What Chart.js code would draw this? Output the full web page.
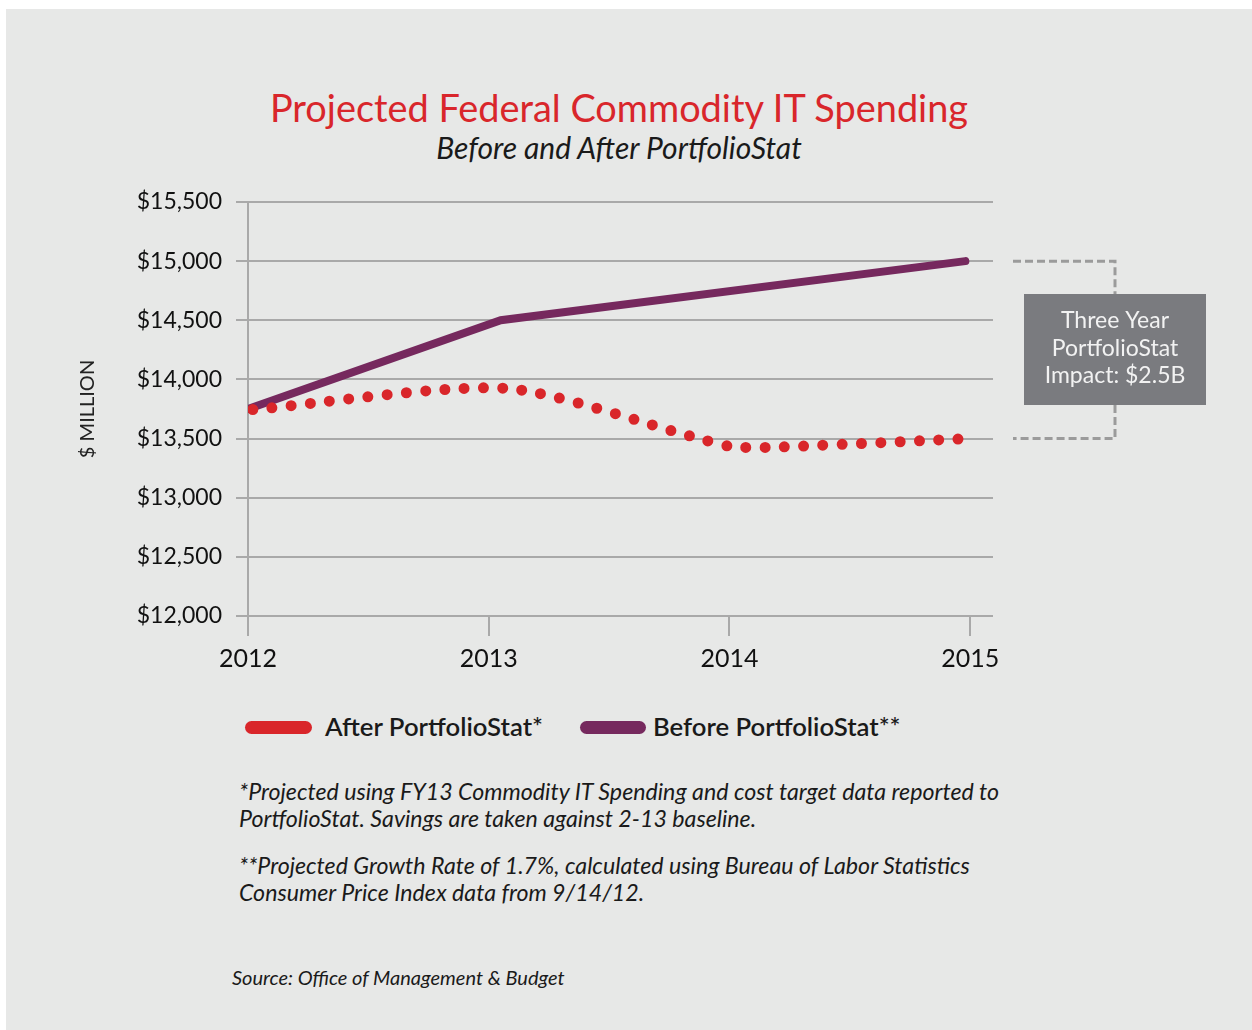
<!DOCTYPE html>
<html>
<head>
<meta charset="utf-8">
<script src="https://cdn.jsdelivr.net/npm/chart.js@4.4.0/dist/chart.umd.min.js"></script>
<style>
  body { margin: 0; background: #fff; font-family: Lato, sans-serif; color: #1a1a1a; }
  #panel { position: absolute; left: 6px; top: 9px; width: 1246px; height: 1021px; background: #e7e8e7; }
  #wrap { position: absolute; left: 0; top: 0; width: 1252px; height: 690px; }
  .abs { position: absolute; white-space: nowrap; }
  #title { left: 0; width: 1238px; top: 85px; text-align: center; font-size: 37.9px; color: #d9262b; line-height: 46px; }
  #subtitle { left: 0; width: 1238px; top: 129px; text-align: center; font-size: 30px; font-style: italic; line-height: 36px; }
  .pill { position: absolute; height: 13px; border-radius: 7px; }
  .leg { font-size: 25.7px; font-weight: 600; line-height: 30px; }
  .note { font-size: 23.2px; font-style: italic; line-height: 27px; left: 239px; }
</style>
</head>
<body>
<div id="panel"></div>
<div id="title" class="abs">Projected Federal Commodity IT Spending</div>
<div id="subtitle" class="abs">Before and After PortfolioStat</div>
<div id="wrap"><canvas id="chart"></canvas></div>

<div class="pill" style="left:245px;top:721px;width:67px;background:#d9262a"></div>
<div class="abs leg" style="left:325px;top:711px">After PortfolioStat*</div>
<div class="pill" style="left:580px;top:721px;width:66px;background:#76295e"></div>
<div class="abs leg" style="left:653px;top:711px">Before PortfolioStat**</div>

<div class="abs note" style="top:778px">*Projected using FY13 Commodity IT Spending and cost target data reported to<br>PortfolioStat. Savings are taken against 2-13 baseline.</div>
<div class="abs note" style="top:852px">**Projected Growth Rate of 1.7%, calculated using Bureau of Labor Statistics<br>Consumer Price Index data from 9/14/12.</div>
<div class="abs note" style="top:964px;left:232px;font-size:20px">Source: Office of Management &amp; Budget</div>

<script>
// tick values
const years = [2012, 2013, 2014, 2015];
const yTicks = [12000, 12500, 13000, 13500, 14000, 14500, 15000, 15500];

// series
const afterX = [2012.02, 2013.07, 2013.85, 2014.0, 2014.15, 2015];
const afterY = [13745, 13925, 13515, 13435, 13425, 13500];
const beforeX = [2012, 2013.05, 2014.98];
const beforeY = [13750, 14500, 15000];

// callout bracket levels
const impactLevels = [15000, 13500];
const impactText = ['Three Year', 'PortfolioStat', 'Impact: $2.5B'];

const gridGray = '#a9a9a9';

const calloutPlugin = {
    id: 'callout',
    afterDraw(chart) {
        const ctx = chart.ctx;
        const y = chart.scales.y;
        const yTop = y.getPixelForValue(impactLevels[0]);
        const yBot = y.getPixelForValue(impactLevels[1]);
        const boxL = 1024, boxR = 1206, boxT = 294, boxB = 405;
        const midX = (boxL + boxR) / 2;
        ctx.save();
        ctx.strokeStyle = '#9b9b9b';
        ctx.lineWidth = 3;
        ctx.setLineDash([8, 4]);
        ctx.beginPath();
        ctx.moveTo(1013, yTop);
        ctx.lineTo(midX, yTop);
        ctx.lineTo(midX, boxT);
        ctx.moveTo(midX, boxB);
        ctx.lineTo(midX, yBot);
        ctx.lineTo(1013, yBot);
        ctx.stroke();
        ctx.setLineDash([]);
        ctx.fillStyle = '#7a7b7f';
        ctx.fillRect(boxL, boxT, boxR - boxL, boxB - boxT);
        ctx.fillStyle = '#f2f2f2';
        ctx.font = '23px Lato';
        ctx.textAlign = 'center';
        ctx.textBaseline = 'middle';
        impactText.forEach((t, i) => ctx.fillText(t, midX, 321 + i * 27.5));
        ctx.restore();
    }
};

const ctx = document.getElementById('chart').getContext('2d');
const chart = new Chart(ctx, {
    type: 'line',
    data: {
        datasets: [
            {
                label: 'After PortfolioStat*',
                data: afterX.map((x, i) => ({ x: x, y: afterY[i] })),
                borderColor: '#d9262a',
                borderWidth: 11,
                borderDash: [0, 19.3],
                borderCapStyle: 'round',
                tension: 0.25,
                pointRadius: 0,
                fill: false,
                order: 0,
            },
            {
                label: 'Before PortfolioStat**',
                data: beforeX.map((x, i) => ({ x: x, y: beforeY[i] })),
                borderColor: '#76295e',
                borderWidth: 8,
                borderCapStyle: 'round',
                borderJoinStyle: 'miter',
                tension: 0,
                pointRadius: 0,
                fill: false,
                order: 1,
            },
        ],
    },
    options: {
        responsive: true,
        maintainAspectRatio: false,
        animation: false,
        layout: { padding: { left: 60, right: 259, top: 202, bottom: 0 } },
        plugins: {
            legend: { display: false },
            tooltip: { enabled: false },
        },
        scales: {
            x: {
                type: 'linear',
                min: 2012,
                max: 2015.095,
                afterBuildTicks: (scale) => { scale.ticks = years.map(v => ({ value: v })); },
                afterFit: (scale) => { scale.height = 74; },
                grid: { drawOnChartArea: false, color: gridGray, lineWidth: 2, tickLength: 20 },
                border: { display: false },
                ticks: {
                    font: { family: 'Lato', size: 25 },
                    color: '#111',
                    padding: 8,
                    maxRotation: 0,
                    callback: (v) => String(v),
                },
            },
            y: {
                min: 12000,
                max: 15500,
                afterBuildTicks: (scale) => { scale.ticks = yTicks.map(v => ({ value: v })); },
                afterFit: (scale) => { scale.width = 188; },
                grid: { color: gridGray, lineWidth: 2, tickLength: 12 },
                border: { display: true, color: gridGray, width: 2 },
                ticks: {
                    font: { family: 'Lato', size: 23 },
                    color: '#111',
                    padding: 14,
                    callback: (v) => '$' + v.toLocaleString('en-US'),
                },
                title: {
                    display: true,
                    text: '$ MILLION',
                    font: { family: 'Lato', size: 20 },
                    color: '#222',
                    padding: { top: 16, bottom: 0 },
                },
            },
        },
    },
    plugins: [calloutPlugin],
});
</script>
</body>
</html>
